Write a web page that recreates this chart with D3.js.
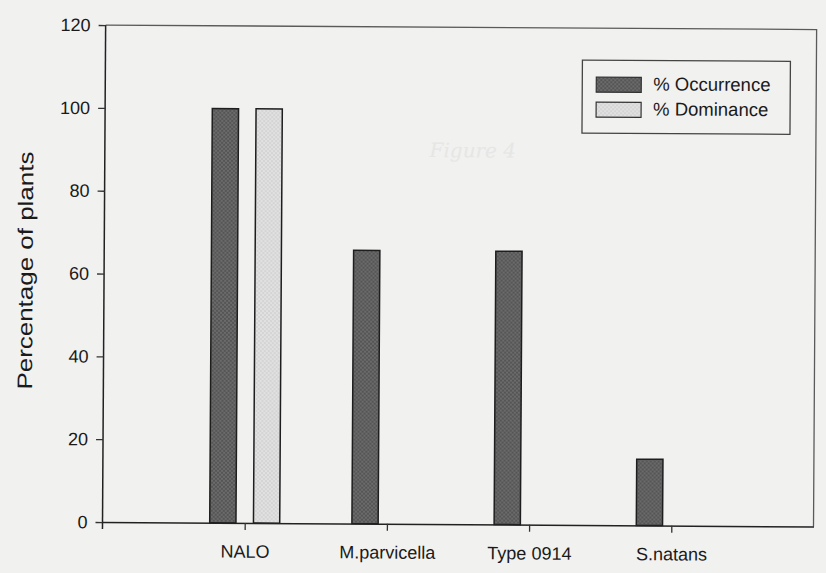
<!DOCTYPE html>
<html>
<head>
<meta charset="utf-8">
<script src="https://cdn.jsdelivr.net/npm/d3@7"></script>
<style>
  body { margin: 0; background: #f1f1f0; }
  svg { display: block; font-family: Arial, "Liberation Sans", sans-serif; }
</style>
</head>
<body>
<div class="canvas"></div>
<script>
// chart data
const categories = ['NALO', 'M.parvicella', 'Type 0914', 'S.natans'];
const seriesNames = ['% Occurrence', '% Dominance'];
const occurrence = [100, 66, 66, 16];
const dominance = [100, 0, 0, 0];
const yTicks = [0, 20, 40, 60, 80, 100, 120];

const fills = {'% Occurrence': 'url(#darkDots)', '% Dominance': 'url(#lightDots)'};

const svg = d3.select('.canvas')
  .append('svg')
    .attr('width', 826)
    .attr('height', 573);

// halftone-ish textures like the scanned bars
const defs = svg.append('defs');
const dark = defs.append('pattern').attr('id', 'darkDots')
  .attr('width', 4).attr('height', 4).attr('patternUnits', 'userSpaceOnUse');
dark.append('rect').attr('width', 4).attr('height', 4).attr('fill', '#555');
dark.append('rect').attr('width', 2).attr('height', 2).attr('fill', '#6b6b6b');
dark.append('rect').attr('x', 2).attr('y', 2).attr('width', 2).attr('height', 2).attr('fill', '#6b6b6b');
const light = defs.append('pattern').attr('id', 'lightDots')
  .attr('width', 4).attr('height', 4).attr('patternUnits', 'userSpaceOnUse');
light.append('rect').attr('width', 4).attr('height', 4).attr('fill', '#d4d4d4');
light.append('rect').attr('width', 2).attr('height', 2).attr('fill', '#e1e1e1');
light.append('rect').attr('x', 2).attr('y', 2).attr('width', 2).attr('height', 2).attr('fill', '#e1e1e1');

const margin = {top: 27, right: 11, bottom: 49, left: 104};
const graphWidth = 826 - margin.left - margin.right;
const graphHeight = 573 - margin.top - margin.bottom;

// the scan sits a little crooked, so tilt everything slightly
const page = svg.append('g').attr('transform', 'rotate(0.36, 413, 286)');

// faint bleed-through from the back of the page
page.append('text')
  .attr('x', 472).attr('y', 157)
  .attr('text-anchor', 'middle')
  .attr('font-family', '"DejaVu Serif", serif')
  .attr('font-style', 'italic')
  .attr('font-size', 20)
  .attr('fill', '#e6e6e5')
  .text('Figure 4');

const graph = page.append('g')
  .attr('transform', `translate(${margin.left}, ${margin.top})`);

// scales
const y = d3.scaleLinear().domain([0, 120]).range([graphHeight, 0]);
const x = d3.scalePoint().domain(categories).range([0, graphWidth]).padding(1);
const x1 = d3.scaleBand().domain(seriesNames).range([-35, 35]).paddingInner(0.4);

// frame (top + right)
graph.append('path')
  .attr('d', `M0,0H${graphWidth}V${graphHeight}`)
  .attr('fill', 'none')
  .attr('stroke', '#5a5a5a')
  .attr('stroke-width', 1.3);

// bars
const rows = categories.map((c, i) => ({
  name: c,
  values: [
    {key: seriesNames[0], value: occurrence[i]},
    {key: seriesNames[1], value: dominance[i]}
  ]
}));

const groups = graph.selectAll('g.cat')
  .data(rows)
  .enter().append('g')
    .attr('class', 'cat')
    .attr('transform', d => `translate(${x(d.name)}, 0)`);

groups.selectAll('rect')
  .data(d => d.values.filter(v => v.value > 0))
  .enter().append('rect')
    .attr('x', d => x1(d.key))
    .attr('y', d => y(d.value))
    .attr('width', x1.bandwidth())
    .attr('height', d => graphHeight - y(d.value))
    .attr('fill', d => fills[d.key])
    .attr('stroke', '#1e1e1e')
    .attr('stroke-width', 1.5);

// axes
const xAxis = d3.axisBottom(x).tickSize(7).tickSizeOuter(0).tickPadding(15);
const yAxis = d3.axisLeft(y).tickValues(yTicks).tickSize(7).tickSizeOuter(0).tickPadding(8);

const xAxisGroup = graph.append('g')
  .attr('transform', `translate(0, ${graphHeight})`)
  .call(xAxis);
const yAxisGroup = graph.append('g').call(yAxis);

// the left axis runs a bit below the bottom one, like the original
yAxisGroup.select('.domain').attr('d', `M0,0V${graphHeight + 7}`);

[xAxisGroup, yAxisGroup].forEach(g => {
  g.select('.domain').attr('stroke', '#222').attr('stroke-width', 1.5);
  g.selectAll('.tick line').attr('stroke', '#333').attr('stroke-width', 1.3);
  g.selectAll('text')
    .attr('fill', '#1a1a1a')
    .attr('font-family', 'Arial, "Liberation Sans", sans-serif');
});
xAxisGroup.attr('font-size', 18);
yAxisGroup.attr('font-size', 18);

// y axis title
page.append('text')
  .attr('transform', 'translate(27, 273) rotate(-90)')
  .attr('text-anchor', 'middle')
  .attr('dominant-baseline', 'middle')
  .attr('font-size', 21)
  .attr('textLength', 238)
  .attr('lengthAdjust', 'spacingAndGlyphs')
  .attr('fill', '#1a1a1a')
  .text('Percentage of plants');

// legend
const legend = page.append('g').attr('transform', 'translate(581, 59)');
legend.append('rect')
  .attr('width', 208).attr('height', 73)
  .attr('fill', 'none')
  .attr('stroke', '#444')
  .attr('stroke-width', 1.3);

const items = legend.selectAll('g.item')
  .data(seriesNames)
  .enter().append('g')
    .attr('class', 'item')
    .attr('transform', (d, i) => `translate(14, ${17 + i * 25})`);
items.append('rect')
  .attr('width', 45).attr('height', 15)
  .attr('fill', d => fills[d])
  .attr('stroke', '#333')
  .attr('stroke-width', 1.2);
items.append('text')
  .attr('x', 57).attr('y', 8)
  .attr('dominant-baseline', 'middle')
  .attr('font-size', 18.5)
  .attr('fill', '#1a1a1a')
  .text(d => d);
</script>
</body>
</html>
